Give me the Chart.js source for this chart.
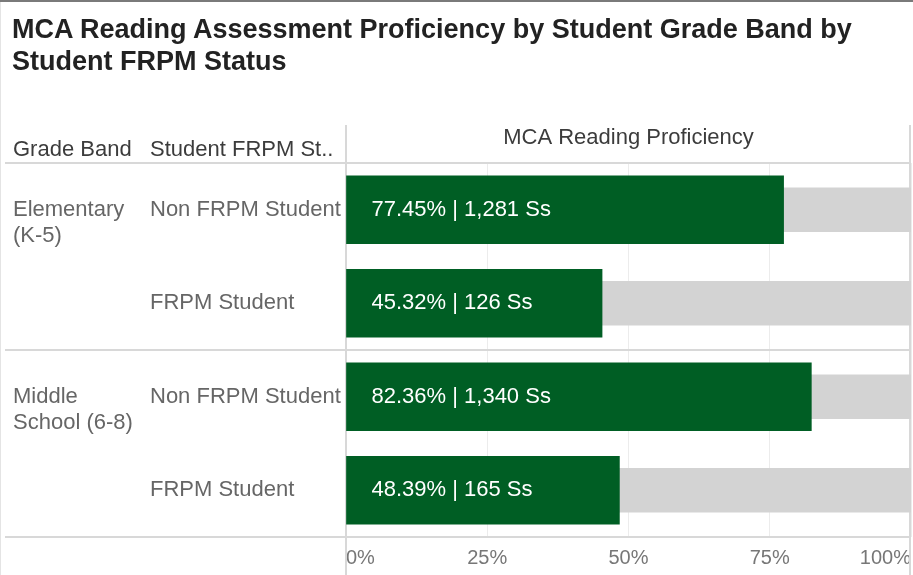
<!DOCTYPE html>
<html>
<head>
<meta charset="utf-8">
<script src="https://cdn.jsdelivr.net/npm/chart.js@4.4.0/dist/chart.umd.min.js"></script>
<style>
  body { margin: 0; background: #fff; }
  #wrap { position: relative; width: 913px; height: 575px; overflow: hidden; background: #fff; }
  #topline { position: absolute; left: 0; top: 0; width: 913px; height: 2px; background: #7a7a7a; }
  #leftline { position: absolute; left: 0; top: 2px; width: 1px; height: 573px; background: #e4e4e4; }
  #title {
    position: absolute; left: 12px; top: 13px;
    font: bold 27px "Liberation Sans", Arial, sans-serif;
    line-height: 32px; color: #222;
  }
  canvas { position: absolute; left: 0; top: 0; }
</style>
</head>
<body>
<div id="wrap">
  <canvas id="chart" width="913" height="575"></canvas>
  <div id="topline"></div>
  <div id="leftline"></div>
  <div id="title">MCA Reading Assessment Proficiency by Student Grade Band by<br>Student FRPM Status</div>
</div>
<script>
const gradeBands = ["Elementary|(K-5)", "Middle|School (6-8)"];
const frpmStatus = ["Non FRPM Student", "FRPM Student", "Non FRPM Student", "FRPM Student"];
const proficiency = [77.45, 45.32, 82.36, 48.39];
const studentCounts = [1281, 126, 1340, 165];
const fullBar = [100, 100, 100, 100];
const xTicks = [0, 25, 50, 75, 100];

const FONT = '"Liberation Sans", Arial, sans-serif';
const LINE = "#d8d8d8";

// table lines, headers, grade band labels and bar labels
const tablePlugin = {
  id: "table",
  beforeDatasetsDraw(chart) {
    const { ctx, chartArea, scales } = chart;
    const y = scales.y;
    ctx.save();
    ctx.strokeStyle = LINE;
    ctx.lineWidth = 2;
    const mid = (y.getPixelForValue(1) + y.getPixelForValue(2)) / 2;
    [chartArea.top, mid, chartArea.bottom].forEach(py => {
      ctx.beginPath();
      ctx.moveTo(5, py);
      ctx.lineTo(chartArea.right, py);
      ctx.stroke();
    });
    [chartArea.left, chartArea.right - 1].forEach(px => {
      ctx.beginPath();
      ctx.moveTo(px, 125);
      ctx.lineTo(px, 575);
      ctx.stroke();
    });
    ctx.restore();
  },
  afterDraw(chart) {
    const { ctx, chartArea, scales } = chart;
    const y = scales.y;
    ctx.save();
    ctx.textBaseline = "middle";
    ctx.font = "22px " + FONT;
    ctx.fillStyle = "#3c3c3c";
    ctx.textAlign = "left";
    ctx.fillText("Grade Band", 13, 150);
    ctx.fillText("Student FRPM St..", 150, 150);
    ctx.textAlign = "center";
    ctx.fillText("MCA Reading Proficiency", (chartArea.left + chartArea.right) / 2, 138);

    // grade band labels
    ctx.textAlign = "left";
    ctx.fillStyle = "#666";
    gradeBands.forEach((g, i) => {
      const py = y.getPixelForValue(i * 2);
      g.split("|").forEach((line, j) => ctx.fillText(line, 13, py + j * 26));
    });

    // bar labels
    const meta = chart.getDatasetMeta(0);
    ctx.fillStyle = "#fff";
    ctx.font = "22px " + FONT;
    meta.data.forEach((bar, i) => {
      const txt = proficiency[i].toFixed(2) + "% | " + studentCounts[i].toLocaleString("en-US") + " Ss";
      ctx.fillText(txt, bar.base + 25, bar.y);
    });
    ctx.restore();
  }
};

new Chart(document.getElementById("chart"), {
  type: "bar",
  data: {
    labels: frpmStatus,
    datasets: [
      {
        label: "MCA Reading Proficiency",
        data: proficiency,
        backgroundColor: "#005e24",
        barThickness: 68,
        grouped: false,
        order: 0
      },
      {
        label: "Total",
        data: fullBar,
        backgroundColor: "#d3d3d3",
        barThickness: 44,
        grouped: false,
        order: 1
      }
    ]
  },
  options: {
    indexAxis: "y",
    responsive: false,
    animation: false,
    layout: { padding: { top: 163, left: 150, right: 2, bottom: 0 } },
    plugins: {
      legend: { display: false },
      tooltip: { enabled: false }
    },
    scales: {
      x: {
        min: 0,
        max: 100,
        afterBuildTicks: scale => { scale.ticks = xTicks.map(v => ({ value: v })); },
        afterFit: scale => {
          scale.height = 38;
          scale.paddingLeft = 0;
          scale.paddingRight = 0;
        },
        ticks: {
          callback: v => v + "%",
          align: "inner",
          padding: 9,
          color: "#777",
          font: { family: FONT, size: 20 }
        },
        grid: { color: "#ececec", lineWidth: 1, drawTicks: false },
        border: { display: false }
      },
      y: {
        afterFit: scale => { scale.width = 196; },
        ticks: {
          crossAlign: "far",
          padding: 0,
          color: "#666",
          font: { family: FONT, size: 22 }
        },
        grid: { display: false, drawTicks: false },
        border: { display: false }
      }
    }
  },
  plugins: [tablePlugin]
});
</script>
</body>
</html>
